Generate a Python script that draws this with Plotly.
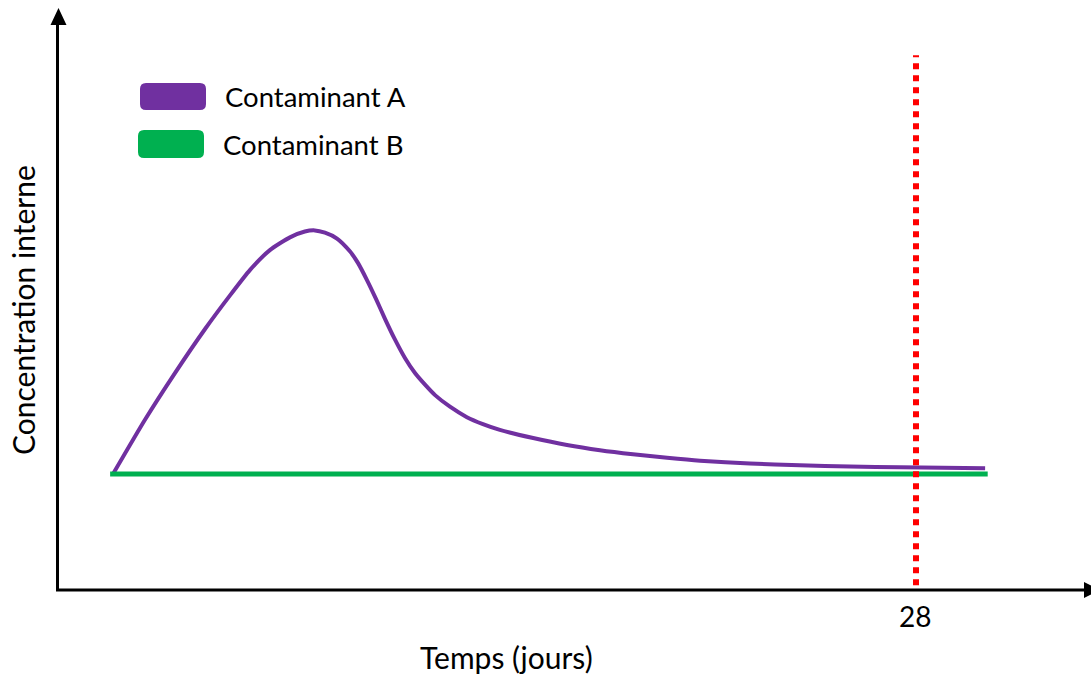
import plotly.graph_objects as go

# Internal concentration over time (arbitrary units)
days_a = [0, 1.12, 2.16, 3.21, 4.08, 4.78, 5.47, 6.17, 6.69, 7.04, 7.39, 7.81,
          8.26, 8.54, 8.86, 9.17, 9.48, 9.83, 10.18, 10.53, 10.88, 11.23, 11.75,
          12.34, 12.90, 13.49, 14.65, 15.83, 16.98, 18.13, 19.32, 20.47, 22.21,
          23.95, 25.70, 27.44, 30.41]
conc_a = [1.00, 1.47, 1.87, 2.25, 2.54, 2.76, 2.93, 3.04, 3.09, 3.10, 3.08, 3.03,
          2.92, 2.82, 2.67, 2.51, 2.34, 2.16, 2.00, 1.87, 1.77, 1.68, 1.58,
          1.49, 1.43, 1.38, 1.31, 1.25, 1.205, 1.17, 1.14, 1.115, 1.09,
          1.075, 1.065, 1.058, 1.05]
days_b = [-0.1, 30.5]
conc_b = [1.0, 1.0]
limit_day = 28
limit_span = [0.04, 4.61]

series_names = ["Contaminant A", "Contaminant B"]
series_colors = ["#7030A0", "#00B050"]
x_title = "Temps (jours)"
y_title = "Concentration interne"
tick_label = "28"

FONT = "Lato"
W, H = 1091, 675

fig = go.Figure()
fig.add_trace(go.Scatter(x=days_a, y=conc_a, mode="lines",
                         line=dict(color=series_colors[0], width=4, shape="spline", smoothing=0.6),
                         name=series_names[0], showlegend=False))
fig.add_trace(go.Scatter(x=days_b, y=conc_b, mode="lines",
                         line=dict(color=series_colors[1], width=5),
                         name=series_names[1], showlegend=False))
fig.add_trace(go.Scatter(x=[limit_day, limit_day], y=limit_span, mode="lines",
                         line=dict(color="#FF0000", width=6, dash="dot"),
                         showlegend=False))


def pix_shape(path, fill=None, line_color=None, line_width=0):
    # path given in screen pixels (origin top-left, y down)
    return dict(type="path", xref="paper", yref="paper", xsizemode="pixel", ysizemode="pixel",
                xanchor=0, yanchor=1, path=path,
                fillcolor=fill if fill else "rgba(0,0,0,0)",
                line=dict(color=line_color if line_color else "rgba(0,0,0,0)", width=line_width),
                layer="above")


def P(x, y):
    return f"{x},{-y}"


def rounded_rect(x0, y0, x1, y1, r):
    return (f"M{P(x0 + r, y0)} L{P(x1 - r, y0)} Q{P(x1, y0)} {P(x1, y0 + r)} "
            f"L{P(x1, y1 - r)} Q{P(x1, y1)} {P(x1 - r, y1)} L{P(x0 + r, y1)} "
            f"Q{P(x0, y1)} {P(x0, y1 - r)} L{P(x0, y0 + r)} Q{P(x0, y0)} {P(x0 + r, y0)} Z")


shapes = [
    # axes with arrowheads
    pix_shape(f"M{P(57.5, 591)} L{P(57.5, 20)}", line_color="black", line_width=3),
    pix_shape(f"M{P(56, 590)} L{P(1086, 590)}", line_color="black", line_width=3),
    pix_shape(f"M{P(58.5, 8)} L{P(66.5, 25)} L{P(50.5, 25)} Z", fill="black"),
    pix_shape(f"M{P(1084, 582)} L{P(1100, 590)} L{P(1084, 598)} Z", fill="black"),
    # legend swatches
    pix_shape(rounded_rect(140, 83, 206, 110, 6), fill=series_colors[0]),
    pix_shape(rounded_rect(138, 130, 204, 158, 6), fill=series_colors[1]),
]

annotations = [
    dict(text=series_names[0], x=223 / W, y=1 - 97 / H, xanchor="left", yanchor="middle", size=27.5),
    dict(text=series_names[1], x=221 / W, y=1 - 145 / H, xanchor="left", yanchor="middle", size=27.5),
    dict(text=tick_label, x=915 / W, y=1 - 616 / H, xanchor="center", yanchor="middle", size=28),
    dict(text=x_title, x=506 / W, y=1 - 657 / H, xanchor="center", yanchor="middle", size=30),
    dict(text=y_title, x=23 / W, y=1 - 310 / H, xanchor="center", yanchor="middle", size=30,
         textangle=-90),
]
for a in annotations:
    size = a.pop("size")
    a.update(xref="paper", yref="paper", showarrow=False,
             font=dict(family=FONT, size=size, color="black"))

# pixel scale: day 0 at x=113, day 28 at x=916; conc 0 at y=590, conc 1 at y=474
px_per_day = (916 - 113) / 28
px_per_unit = 116
fig.update_layout(
    width=W, height=H,
    margin=dict(l=0, r=0, t=0, b=0),
    paper_bgcolor="white", plot_bgcolor="white",
    xaxis=dict(range=[-113 / px_per_day, (W - 113) / px_per_day], visible=False, fixedrange=True),
    yaxis=dict(range=[-(H - 590) / px_per_unit, 590 / px_per_unit], visible=False, fixedrange=True),
    shapes=shapes,
    annotations=annotations,
    showlegend=False,
)

fig.write_html("out.html", config={"displayModeBar": False})
